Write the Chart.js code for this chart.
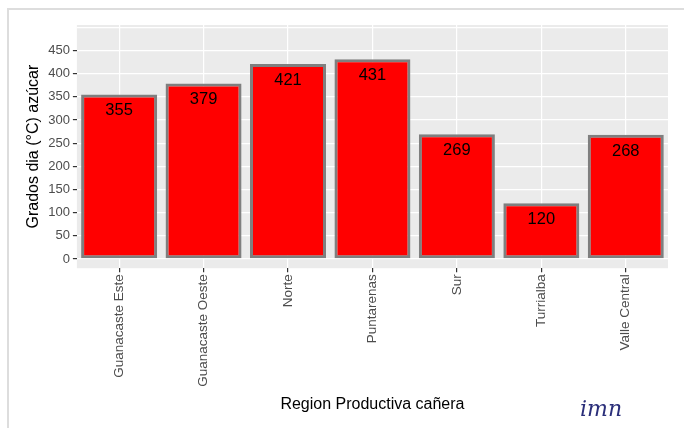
<!DOCTYPE html>
<html><head><meta charset="utf-8">
<script src="https://cdn.jsdelivr.net/npm/chart.js@4"></script>
<style>
body{margin:0;background:#fff}
#frame{position:absolute;left:7px;top:8px;width:680px;height:430px;border:2px solid #ddd;border-right:none;border-bottom:none}
#wrap{position:absolute;left:0;top:0;width:684px;height:428px}
#logo{position:absolute;left:580px;top:396px;font:italic 22px "DejaVu Serif",serif;color:#2b2f7a}
</style></head>
<body>
<div id="frame"></div>
<div id="wrap"><canvas id="myChart"></canvas></div>
<div id="logo">imn</div>
<script>
// data
var regions = ['Guanacaste Este','Guanacaste Oeste','Norte','Puntarenas','Sur','Turrialba','Valle Central']
var grados = [355, 379, 421, 431, 269, 120, 268]

// panel background + value labels
var panelBg = {
    id: 'panelBg',
    beforeDraw(chart){
        let a = chart.chartArea, c = chart.ctx
        c.save()
        c.fillStyle = '#ebebeb'
        c.fillRect(a.left, a.top, a.right-a.left, a.bottom-a.top)
        c.restore()
    },
    afterDatasetsDraw(chart){
        let c = chart.ctx
        let meta = chart.getDatasetMeta(0)
        c.save()
        c.fillStyle = '#000'
        c.font = '16.5px "Liberation Sans", Arial'
        c.textAlign = 'center'
        c.textBaseline = 'top'
        meta.data.forEach((bar, i) => {
            c.fillText(grados[i], bar.x, bar.y + 8)
        })
        c.restore()
    }
}

var major = c => c.tick && c.tick.value % 50 === 0

var ctx = document.getElementById('myChart')
new Chart(ctx, {
    type: 'bar',
    data: {
        labels: regions,
        datasets: [{
            data: grados,
            backgroundColor: '#ff0000',
            borderColor: '#7f7f7f',
            borderWidth: 3,
            borderSkipped: false,
            barPercentage: 0.9,
            categoryPercentage: 1
        }]
    },
    options: {
        responsive: true,
        maintainAspectRatio: false,
        animation: false,
        layout: {padding: {top: 25, right: 16, left: 20, bottom: 10}},
        plugins: {legend: {display: false}, tooltip: {enabled: false}},
        scales: {
            x: {
                grid: {color: '#fff', lineWidth: 1.2, tickColor: '#333', tickLength: 4, offset: false},
                border: {display: false},
                ticks: {color: '#4d4d4d', font: {size: 13.5, family: '"Liberation Sans", Arial'}, minRotation: 90, maxRotation: 90, padding: 2},
                title: {display: true, text: 'Region Productiva cañera', color: '#000', font: {size: 16, family: '"Liberation Sans", Arial'}, padding: {top: 6}}
            },
            y: {
                min: -20, max: 505,
                afterBuildTicks(axis){
                    let t = []
                    for (let v = 0; v <= 500; v += 25) t.push({value: v})
                    axis.ticks = t
                },
                grid: {
                    color: c => major(c) ? '#fff' : '#f5f5f5',
                    lineWidth: c => major(c) ? 1.2 : 0.6,
                    tickColor: c => (major(c) && c.tick.value <= 450) ? '#333' : 'rgba(0,0,0,0)',
                    tickLength: 4
                },
                border: {display: false},
                ticks: {
                    color: '#4d4d4d', font: {size: 13, family: '"Liberation Sans", Arial'}, padding: 3,
                    callback: v => (v % 50 === 0 && v <= 450) ? v : ''
                },
                title: {display: true, text: 'Grados dia (°C) azúcar', color: '#000', font: {size: 16, family: '"Liberation Sans", Arial'}, padding: {bottom: 2}}
            }
        }
    },
    plugins: [panelBg]
})
</script>
</body></html>
